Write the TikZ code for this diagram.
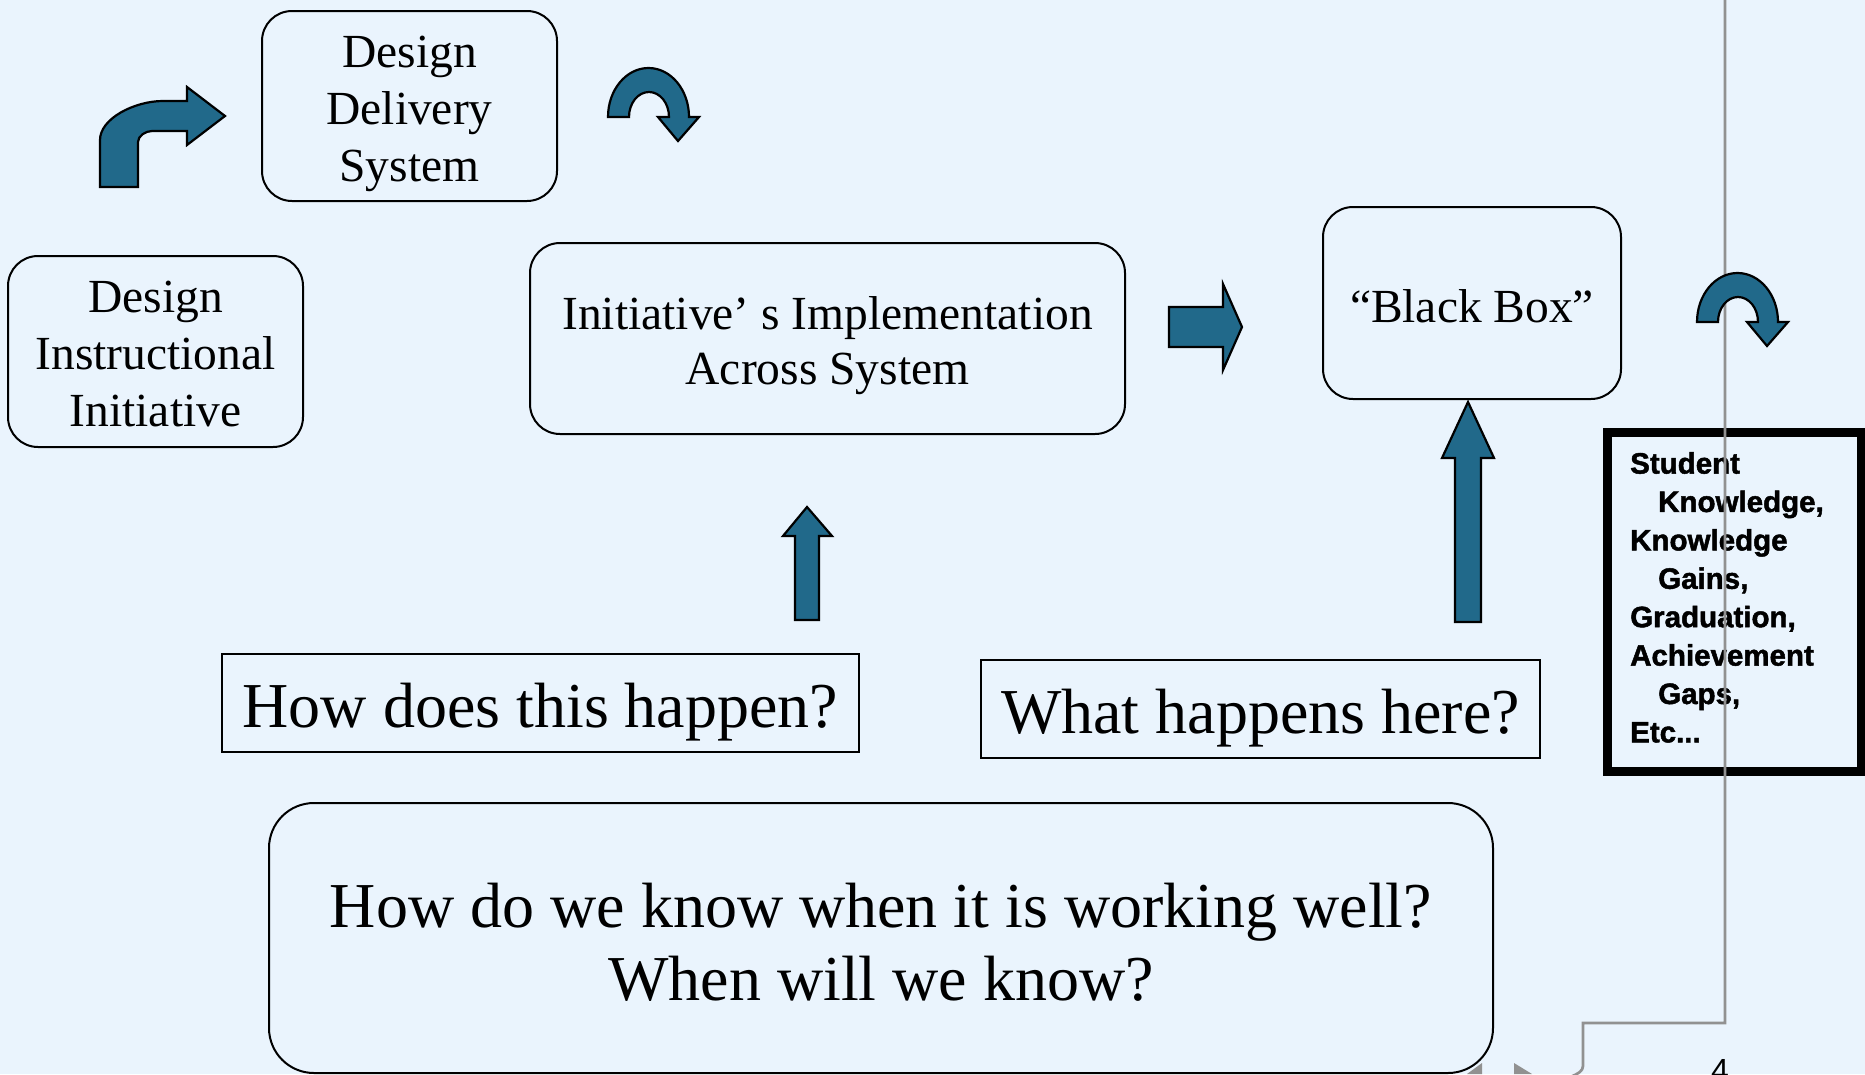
\documentclass[tikz,border=0pt]{standalone}
\usepackage{fontspec}
\setmainfont{Liberation Serif}
\newfontfamily\outfont{Liberation Sans}[BoldFeatures={FakeBold=1.6}]
\definecolor{slidebg}{RGB}{234,244,253}
\definecolor{arrowblue}{RGB}{33,105,138}
\definecolor{guidegray}{RGB}{145,145,145}
% centred lines, set a little lower than the box centre
\newcommand{\boxlines}[2][7pt]{\raisebox{-#1}[\height][\depth]{\begin{tabular}{@{}c@{}}#2\end{tabular}}}
\tikzset{
  roundbox/.style={draw, rounded corners=30pt, line width=2pt,
    inner sep=0pt, font=\fontsize{47.5}{57}\selectfont},
  questionbox/.style={draw, line width=2pt, inner sep=0pt,
    font=\fontsize{64}{74}\selectfont},
  blockarrow/.style={draw=black, fill=arrowblue, line width=2.2pt, line join=miter},
  guideline/.style={draw=guidegray, line width=2.7pt}
}

\begin{document}
\begin{tikzpicture}[x=1pt,y=-1pt]
  \useasboundingbox (0,0) rectangle (1865,1074);
  \fill[slidebg] (0,0) rectangle (1865,1074);

  % boxes
  \node[roundbox, minimum width=295pt, minimum height=190pt] (delivery) at (409.5,106) {\boxlines{Design\\Delivery\\System}};
  \node[roundbox, minimum width=295pt, minimum height=191pt] (initiative) at (155.5,351.5) {\boxlines{Design\\Instructional\\Initiative}};
  \node[roundbox, minimum width=595pt, minimum height=191pt,
    font=\fontsize{47.5}{55}\selectfont] (implementation) at (827.5,338.5) {\boxlines{Initiative’ s Implementation\\Across System}};
  \node[roundbox, minimum width=298pt, minimum height=192pt] (blackbox) at (1472,303) {\boxlines[8pt]{“Black Box”}};
  \node[questionbox, minimum width=637pt, minimum height=98pt] (howhappen) at (540.5,703) {\boxlines[10pt]{How does this happen?}};
  \node[questionbox, minimum width=559pt, minimum height=98pt] (whathappens) at (1260.5,709) {\boxlines[10pt]{What happens here?}};
  \node[roundbox, rounded corners=45pt, minimum width=1224pt, minimum height=270pt,
    font=\fontsize{64}{73}\selectfont] (knowwell) at (881,938) {\boxlines[11pt]{How do we know when it is working well?\\When will we know?}};

  % outcomes
  \draw[line width=9pt] (1607,432) rectangle (1861,771);
  \node[anchor=north west, align=left, inner sep=0pt,
    font=\outfont\bfseries\fontsize{29.5}{38.4}\selectfont] (outcomes) at (1630,452)
    {Student\\\hspace*{28pt}Knowledge,\\Knowledge\\\hspace*{28pt}Gains,\\Graduation,\\Achievement\\\hspace*{28pt}Gaps,\\Etc...};

  % slide guide lines
  \draw[guideline] (1725,-5) -- (1725,1023) -- (1583,1023) -- (1583,1066)
    .. controls (1583,1071) and (1578,1074) .. (1570,1077);
  \fill[guidegray] (1467,1074) -- (1482,1063) -- (1482,1074) -- cycle;
  \fill[guidegray] (1514,1063) -- (1532,1074) -- (1514,1074) -- cycle;
  \node[font=\outfont\fontsize{32}{36}\selectfont, anchor=base, inner sep=0pt] (pagenum) at (1720,1081) {4};

  % block arrows
  \draw[blockarrow] (100,187) -- (100,140) .. controls (100,118.5) and (134.6,101) .. (163,101)
    -- (187,101) -- (187,87) -- (225,116) -- (187,145) -- (187,131) -- (152,131)
    .. controls (145.4,131) and (138,136) .. (138,142) -- (138,187) -- cycle;
  \foreach \ox/\oy in {608/117, 1697/322}{
    \draw[blockarrow, shift={(\ox,\oy)}] (0,0) .. controls (0,-27.06) and (18.13,-49) .. (40.5,-49)
      .. controls (62.87,-49) and (81,-27.06) .. (81,0) -- (91,0) -- (70,24) -- (50,0) -- (61,0)
      .. controls (61,-13.81) and (52.05,-25) .. (41,-25)
      .. controls (29.95,-25) and (21,-13.81) .. (21,0) -- cycle;
  }
  \draw[blockarrow] (1169,307) -- (1223,307) -- (1223,284) -- (1242,327) -- (1223,370) -- (1223,347) -- (1169,347) -- cycle;
  \draw[blockarrow] (795,620) -- (795,536) -- (783,536) -- (807,507) -- (832,536) -- (819,536) -- (819,620) -- cycle;
  \draw[blockarrow] (1455,622) -- (1455,458) -- (1442,458) -- (1468,402) -- (1494,458) -- (1481,458) -- (1481,622) -- cycle;
\end{tikzpicture}
\end{document}
